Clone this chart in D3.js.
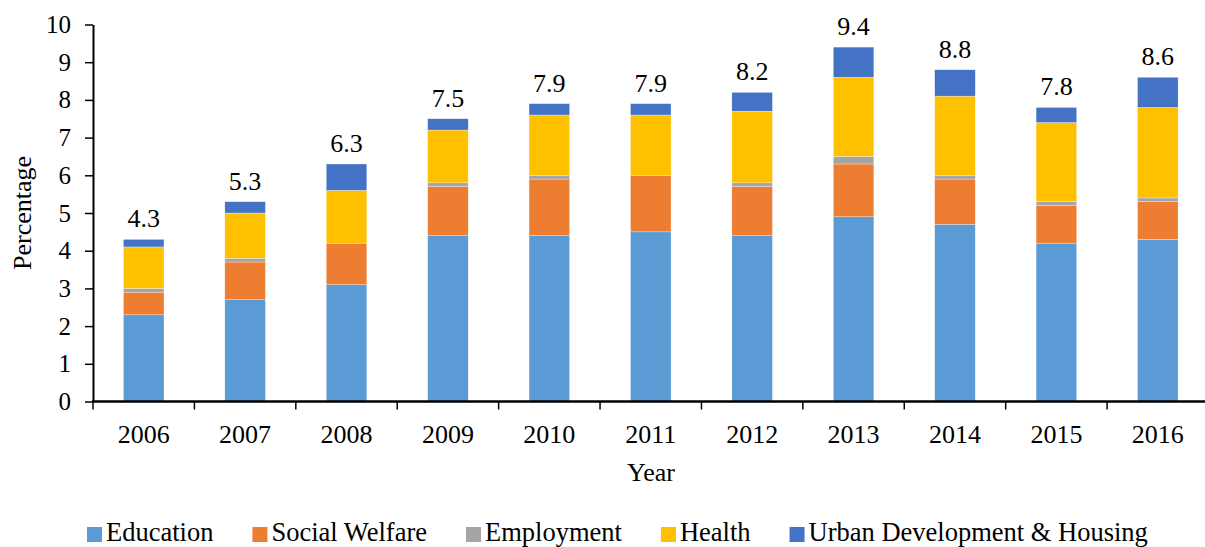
<!DOCTYPE html>
<html>
<head>
<meta charset="utf-8">
<script src="https://cdn.jsdelivr.net/npm/d3@7"></script>
<style>
  body { margin: 0; background: #fff; }
  svg text { font-family: "Times New Roman", "Liberation Serif", "DejaVu Serif", serif; }
</style>
</head>
<body>
<svg id="chart" width="1205" height="547"></svg>
<script>
// values (percentage)
years = ["2006", "2007", "2008", "2009", "2010", "2011", "2012", "2013", "2014", "2015", "2016"];
seriesNames = ["Education", "Social Welfare", "Employment", "Health", "Urban Development & Housing"];
seriesColors = ["#5b9bd5", "#ed7d31", "#a5a5a5", "#ffc000", "#4472c4"];
education = [2.3, 2.7, 3.1, 4.4, 4.4, 4.5, 4.4, 4.9, 4.7, 4.2, 4.3];
socialWelfare = [0.6, 1.0, 1.1, 1.3, 1.5, 1.5, 1.3, 1.4, 1.2, 1.0, 1.0];
employment = [0.1, 0.1, 0.0, 0.1, 0.1, 0.0, 0.1, 0.2, 0.1, 0.1, 0.1];
health = [1.1, 1.2, 1.4, 1.4, 1.6, 1.6, 1.9, 2.1, 2.1, 2.1, 2.4];
urban = [0.2, 0.3, 0.7, 0.3, 0.3, 0.3, 0.5, 0.8, 0.7, 0.4, 0.8];
totals = [4.3, 5.3, 6.3, 7.5, 7.9, 7.9, 8.2, 9.4, 8.8, 7.8, 8.6];
yTicks = [0, 1, 2, 3, 4, 5, 6, 7, 8, 9, 10];

allSeries = [education, socialWelfare, employment, health, urban];
rows = years.map((y, i) => {
    let r = {year: y};
    seriesNames.forEach((s, k) => r[s] = allSeries[k][i]);
    return r;
});

svg = d3.select("#chart");

x = d3.scaleBand().domain(years).range([93, 1208.5]).paddingInner(0.6).paddingOuter(0.3);
y = d3.scaleLinear().domain([0, 10]).range([401.5, 24.5]);

stacked = d3.stack().keys(seriesNames)(rows);

svg.append("g").selectAll("g")
    .data(stacked)
    .join("g")
    .attr("fill", (d, i) => seriesColors[i])
    .selectAll("rect")
    .data(d => d)
    .join("rect")
    .attr("x", d => x(d.data.year))
    .attr("width", x.bandwidth())
    .attr("y", d => y(d[1]))
    .attr("height", d => Math.max(0, y(d[0]) - y(d[1])))
    .attr("stroke", "#fff")
    .attr("stroke-width", 0.5)
    .attr("stroke-opacity", 0.6);

// total labels
svg.append("g").selectAll("text")
    .data(years)
    .join("text")
    .attr("x", d => x(d) + x.bandwidth() / 2)
    .attr("y", (d, i) => y(totals[i]) - 12)
    .attr("text-anchor", "middle")
    .attr("font-size", 26)
    .attr("fill", "#000")
    .text((d, i) => totals[i].toFixed(1));

// y axis
yAxis = svg.append("g")
    .attr("transform", "translate(93,0)")
    .call(d3.axisLeft(y).tickValues(yTicks).tickSize(8).tickPadding(14).tickSizeOuter(0));
yAxis.attr("font-family", null);
yAxis.select(".domain").attr("stroke", "#000").attr("stroke-width", 2);
yAxis.selectAll(".tick line").attr("stroke", "#000").attr("stroke-width", 1.5);
yAxis.selectAll(".tick text").attr("font-size", 25).attr("fill", "#000");

// x axis with ticks at band boundaries
svg.append("line")
    .attr("x1", 92).attr("x2", 1205)
    .attr("y1", y(0)).attr("y2", y(0))
    .attr("stroke", "#000").attr("stroke-width", 2.5);
svg.append("g").selectAll("line")
    .data(years)
    .join("line")
    .attr("x1", d => x(d) + x.bandwidth() / 2 - x.step() / 2)
    .attr("x2", d => x(d) + x.bandwidth() / 2 - x.step() / 2)
    .attr("y1", y(0)).attr("y2", y(0) + 8)
    .attr("stroke", "#000").attr("stroke-width", 1.5);
svg.append("g").selectAll("text")
    .data(years)
    .join("text")
    .attr("x", d => x(d) + x.bandwidth() / 2)
    .attr("y", 443)
    .attr("text-anchor", "middle")
    .attr("font-size", 26)
    .text(d => d);

// axis titles
svg.append("text")
    .attr("x", 651).attr("y", 481)
    .attr("text-anchor", "middle")
    .attr("font-size", 26)
    .text("Year");
svg.append("text")
    .attr("transform", "translate(31,213) rotate(-90)")
    .attr("text-anchor", "middle")
    .attr("font-size", 26)
    .text("Percentage");

// legend
legend = svg.append("g").attr("transform", "translate(87,0)");
let lx = 0;
seriesNames.forEach((s, i) => {
    let item = legend.append("g").attr("transform", "translate(" + lx + ",0)");
    item.append("rect")
        .attr("x", 0).attr("y", 527)
        .attr("width", 15).attr("height", 15)
        .attr("fill", seriesColors[i]);
    let t = item.append("text")
        .attr("x", 19).attr("y", 541)
        .attr("font-size", 26.5)
        .text(s);
    lx += 19 + t.node().getComputedTextLength() + 39;
});
</script>
</body>
</html>
